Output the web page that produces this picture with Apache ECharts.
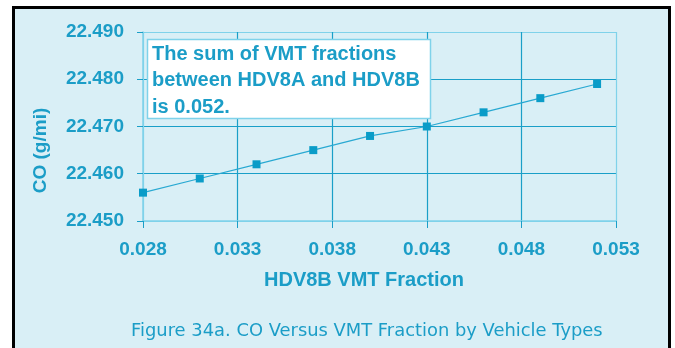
<!DOCTYPE html>
<html>
<head>
<meta charset="utf-8">
<script src="https://cdn.jsdelivr.net/npm/echarts@6/dist/echarts.min.js"></script>
<style>
  html, body { margin: 0; padding: 0; background: #ffffff; }
  #chart { width: 675px; height: 348px; }
</style>
</head>
<body>
<div id="chart"></div>
<script>
// HDV8B VMT fraction (x) and resulting CO emission rate in g/mi (y)
const fractions = [0.028, 0.031, 0.034, 0.037, 0.040, 0.043, 0.046, 0.049, 0.052];
const coValues  = [22.456, 22.459, 22.462, 22.465, 22.468, 22.470, 22.473, 22.476, 22.479];

// Tick positions for both axes
const xTicks = [0.028, 0.033, 0.038, 0.043, 0.048, 0.053];
const yTicks = [22.450, 22.460, 22.470, 22.480, 22.490];

const noteLines = ['The sum of VMT fractions', 'between HDV8A and HDV8B', 'is 0.052.'];
const xName = 'HDV8B VMT Fraction';
const yName = 'CO (g/mi)';
const caption = 'Figure 34a. CO Versus VMT Fraction by Vehicle Types';

const TEXT = '#1b9dc7';
const GRID_DARK = '#1a9fc8';
const GRID_LIGHT = '#7fd2ea';
const FILL = '#d9eff6';
const SANS = '"Liberation Sans", Arial, sans-serif';

const chart = echarts.init(document.getElementById('chart'), null, { renderer: 'canvas' });

// Outer grid lines are drawn lighter than the inner ones
function splitColors(n) {
  const c = [];
  for (let i = 0; i < n; i++) c.push(i === 0 || i === n - 1 ? GRID_LIGHT : GRID_DARK);
  return c;
}

chart.setOption({
  animation: false,
  backgroundColor: '#ffffff',
  graphic: [
    {
      type: 'rect', z: -10, silent: true,
      shape: { x: 13.5, y: 7.5, width: 656, height: 360 },
      style: { fill: FILL, stroke: '#000000', lineWidth: 3 }
    },
    {
      type: 'rect', z: 50,
      shape: { x: 147.5, y: 39.5, width: 283, height: 79 },
      style: { fill: '#ffffff', stroke: GRID_LIGHT, lineWidth: 1.5 }
    },
    {
      type: 'text', z: 51, left: 152, top: 41,
      style: {
        text: noteLines.join('\n'),
        fill: TEXT,
        font: 'bold 20px ' + SANS,
        lineHeight: 26.5
      }
    },
    {
      type: 'text', z: 51, left: 131, top: 322,
      style: {
        text: caption,
        fill: TEXT,
        font: '17.9px "DejaVu Sans", sans-serif'
      }
    }
  ],
  grid: { left: 143, right: 59, top: 32, bottom: 127, containLabel: false },
  xAxis: {
    type: 'value',
    min: 0.028,
    max: 0.053,
    name: xName,
    nameLocation: 'middle',
    nameGap: 49,
    nameTextStyle: {
      color: TEXT, fontWeight: 'bold', fontSize: 20, fontFamily: SANS,
      padding: [0, 31, 0, 0]
    },
    axisLine: { show: true, lineStyle: { color: GRID_LIGHT, width: 1.5 } },
    axisTick: { show: true, length: 7, customValues: xTicks, lineStyle: { color: GRID_DARK } },
    axisLabel: {
      customValues: xTicks,
      margin: 19,
      color: TEXT, fontWeight: 'bold', fontSize: 19, fontFamily: SANS,
      formatter: (v) => v.toFixed(3)
    },
    splitLine: { show: true, lineStyle: { color: splitColors(xTicks.length), width: 1.2 } }
  },
  yAxis: {
    type: 'value',
    min: 22.45,
    max: 22.49,
    name: yName,
    nameLocation: 'middle',
    nameGap: 93,
    nameRotate: 90,
    nameTextStyle: {
      color: TEXT, fontWeight: 'bold', fontSize: 19, fontFamily: SANS,
      padding: [0, 48, 0, 0]
    },
    axisLine: { show: true, lineStyle: { color: GRID_LIGHT, width: 1.5 } },
    axisTick: { show: true, length: 6, customValues: yTicks, lineStyle: { color: GRID_DARK } },
    axisLabel: {
      customValues: yTicks,
      margin: 19,
      color: TEXT, fontWeight: 'bold', fontSize: 19, fontFamily: SANS,
      formatter: (v) => v.toFixed(3)
    },
    splitLine: { show: true, lineStyle: { color: splitColors(yTicks.length), width: 1.2 } }
  },
  series: [{
    type: 'line',
    data: fractions.map((f, i) => [f, coValues[i]]),
    symbol: 'rect',
    symbolSize: 8,
    showSymbol: true,
    lineStyle: { color: '#29a9d2', width: 1.2 },
    itemStyle: { color: '#0a9cc8' },
    z: 10
  }]
});
</script>
</body>
</html>
